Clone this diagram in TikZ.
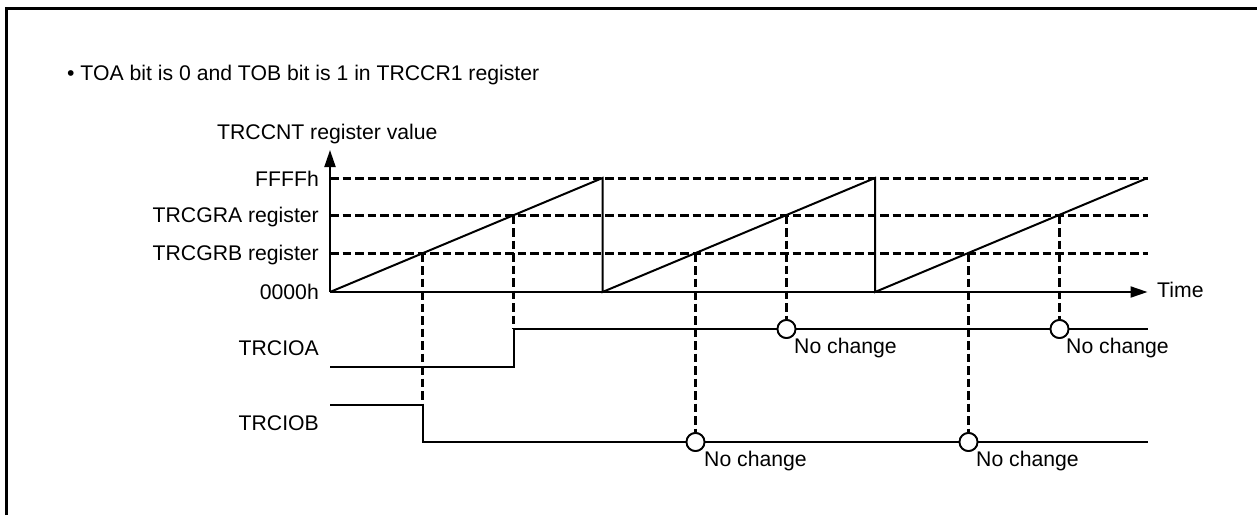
\documentclass[tikz,border=0pt]{standalone}
\usepackage{fontspec}
\setmainfont{Liberation Sans}
\usetikzlibrary{arrows.meta}
\begin{document}
\begin{tikzpicture}[x=1pt,y=-1pt,
  lab/.style={inner sep=0pt, font=\fontsize{21.2}{25}\selectfont},
  guide/.style={line width=3pt, dash pattern=on 8.5pt off 4pt},
  sig/.style={line width=2pt},
  axis/.style={line width=2pt, -{Triangle[length=17pt,width=11pt]}},
  frame/.style={line width=3pt},
  nochg/.style={circle, draw, fill=white, line width=1.8pt, minimum size=18pt, inner sep=0pt}]
\useasboundingbox (0,0) rectangle (1257,515);
% frame (left and top edges)
\coordinate (FrTL) at (6.5,8.5);
\coordinate (FrBL) at (6.5,515);
\coordinate (FrTR) at (1257,8.5);
\draw[frame] (FrBL) -- (FrTL) -- (FrTR);
% title
\node[lab, anchor=base west] (title) at (67,80.7) {\textbullet\ TOA bit is 0 and TOB bit is 1 in TRCCR1 register};
\node[lab, anchor=base west] (ylab) at (217,139) {TRCCNT register value};
% axis coordinates
\coordinate (O) at (330,292);
\coordinate (Ytop) at (330,150);
\coordinate (Tend) at (1147.5,292);
\coordinate (FFl) at (330,178.5);  \coordinate (FFr) at (1147.5,178.5);
\coordinate (GAl) at (330,215.5);  \coordinate (GAr) at (1147.5,215.5);
\coordinate (GBl) at (330,253.5);  \coordinate (GBr) at (1147.5,253.5);
% ramp corners
\coordinate (R1t) at (602.5,178); \coordinate (R1b) at (602.5,292);
\coordinate (R2t) at (875,178);   \coordinate (R2b) at (875,292);
\coordinate (R3t) at (1147.5,178);
% crossings
\coordinate (B1) at (422.5,253.5);   \coordinate (A1) at (513.5,215.5);
\coordinate (B2) at (695.5,253.5); \coordinate (A2) at (786.5,215.5);
\coordinate (B3) at (968.5,253.5);   \coordinate (A3) at (1059.5,215.5);
% level labels
\node[lab, anchor=base east] (lFF) at (319,186) {FFFFh};
\node[lab, anchor=base east] (lGA) at (319,222.7) {TRCGRA register};
\node[lab, anchor=base east] (lGB) at (319,260) {TRCGRB register};
\node[lab, anchor=base east] (l00) at (319,299.3) {0000h};
\node[lab, anchor=base west] (ltime) at (1157,297.7) {Time};
\node[lab, anchor=base east] (lA) at (319,355) {TRCIOA};
\node[lab, anchor=base east] (lB) at (319,430) {TRCIOB};
% dashed level lines
\draw[guide] (FFl) -- (FFr);
\draw[guide] (GAl) -- (GAr);
\draw[guide] (GBl) -- (GBr);
% signals
\coordinate (SAs) at (330,367);  \coordinate (SAl) at (513.5,367); \coordinate (SAh) at (513.5,329); \coordinate (SAe) at (1147.5,329);
\coordinate (SBs) at (330,405);  \coordinate (SBh) at (422.5,405); \coordinate (SBl) at (422.5,442); \coordinate (SBe) at (1147.5,442);
% circles
\node[nochg] (cA2) at (786.5,329) {};
\node[nochg] (cA3) at (1059.5,329) {};
\node[nochg] (cB2) at (695.5,442) {};
\node[nochg] (cB3) at (968.5,442) {};
% dashed verticals
\draw[guide] (B1) -- (SBh);
\draw[guide] (A1) -- (SAh);
\draw[guide] (A2) -- (cA2.north);
\draw[guide] (A3) -- (cA3.north);
\draw[guide] (B2) -- (cB2.north);
\draw[guide] (B3) -- (cB3.north);
% sawtooth
\draw[sig] (O) -- (R1t) -- (R1b) -- (R2t) -- (R2b) -- (R3t);
% signal traces
\draw[sig] (SAs) -- (SAl) -- (SAh) -- (cA2.west);
\draw[sig] (cA2.east) -- (cA3.west);
\draw[sig] (cA3.east) -- (SAe);
\draw[sig] (SBs) -- (SBh) -- (SBl) -- (cB2.west);
\draw[sig] (cB2.east) -- (cB3.west);
\draw[sig] (cB3.east) -- (SBe);
% redraw circles on top
\node[nochg] at (cA2) {};
\node[nochg] at (cA3) {};
\node[nochg] at (cB2) {};
\node[nochg] at (cB3) {};
% axes
\draw[axis] (O) -- (Ytop);
\draw[axis] (O) -- (Tend);
% no change labels
\node[lab, anchor=base west] (nA2) at (794,353) {No change};
\node[lab, anchor=base west] (nA3) at (1066,353) {No change};
\node[lab, anchor=base west] (nB2) at (704,466.7) {No change};
\node[lab, anchor=base west] (nB3) at (976,466.7) {No change};
\end{tikzpicture}
\end{document}
